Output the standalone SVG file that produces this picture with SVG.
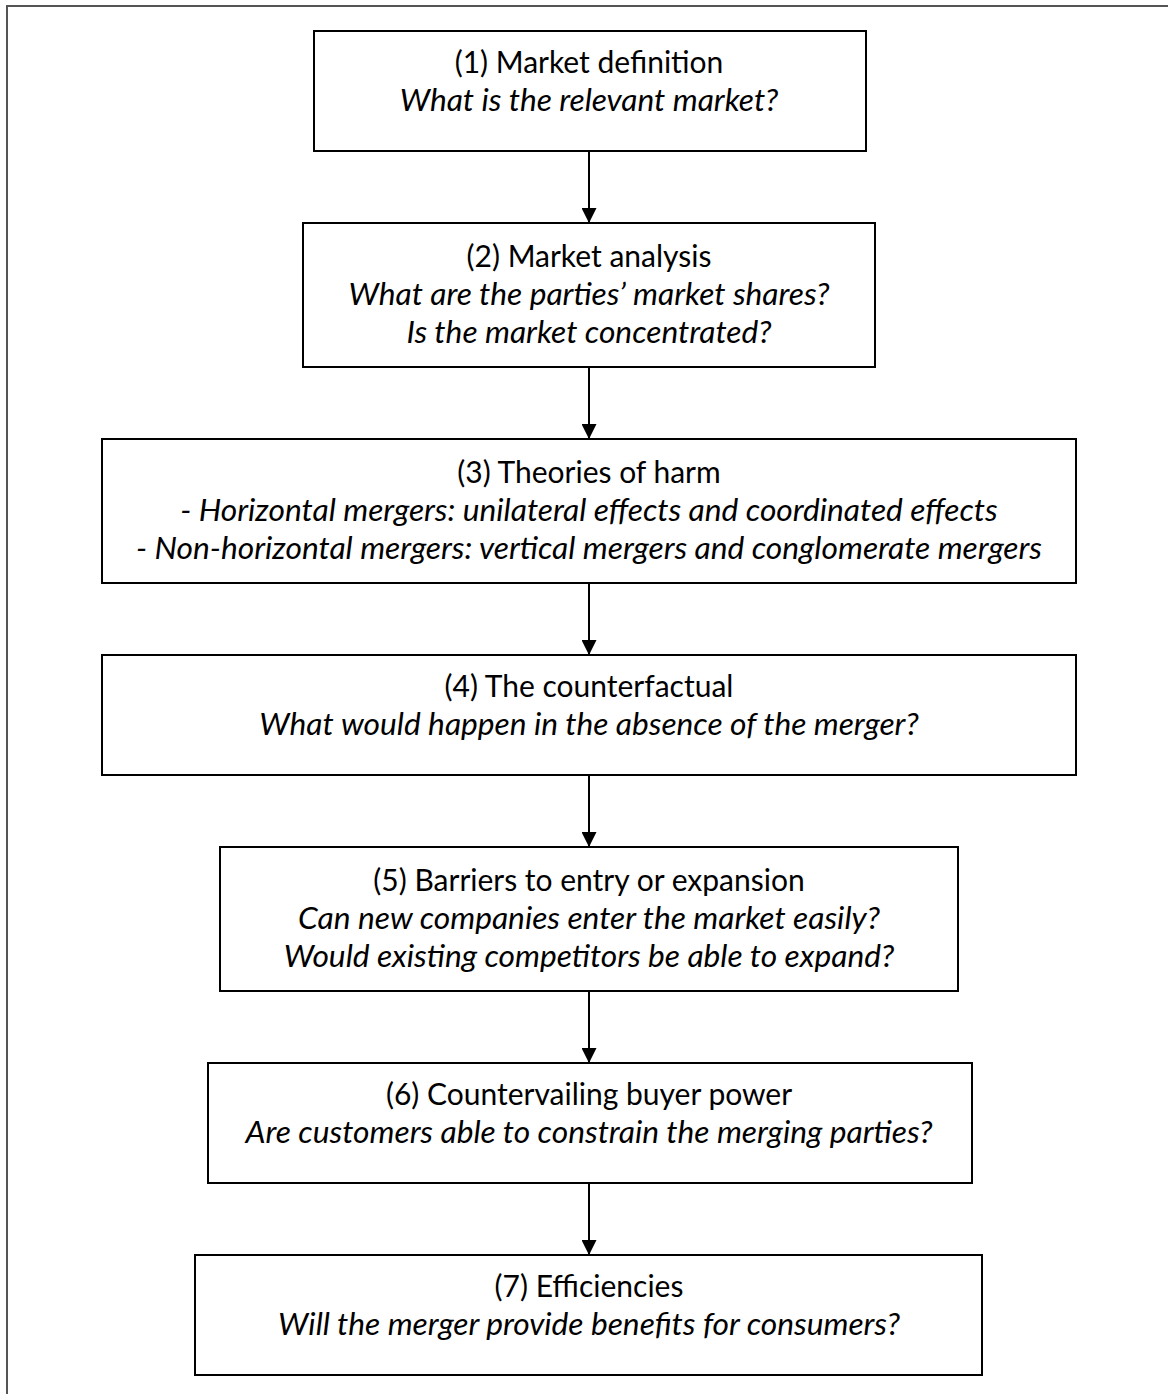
<svg xmlns="http://www.w3.org/2000/svg" width="1168" height="1394" viewBox="0 0 1168 1394">
<style>
.box{fill:#fff;stroke:#000;stroke-width:2}
.t{font-family:Lato,"Open Sans","Liberation Sans",sans-serif;font-size:30px;fill:#000;text-anchor:middle}
.i{font-style:italic;font-size:31.7px}
.c{stroke:#000;stroke-width:2;fill:none}
</style>
<defs>
<marker id="ah" markerWidth="15" markerHeight="15" refX="15" refY="7.5" orient="auto" markerUnits="userSpaceOnUse">
<path d="M0,0 L15,7.5 L0,15 Z" fill="#000"/>
</marker>
</defs>
<rect x="7" y="6" width="1200" height="1450" fill="#fff" stroke="#555" stroke-width="2"/>
<g id="connectors">
<line class="c" x1="589" y1="151" x2="589" y2="223" marker-end="url(#ah)"/>
<line class="c" x1="589" y1="367" x2="589" y2="439" marker-end="url(#ah)"/>
<line class="c" x1="589" y1="583" x2="589" y2="655" marker-end="url(#ah)"/>
<line class="c" x1="589" y1="775" x2="589" y2="847" marker-end="url(#ah)"/>
<line class="c" x1="589" y1="991" x2="589" y2="1063" marker-end="url(#ah)"/>
<line class="c" x1="589" y1="1183" x2="589" y2="1255" marker-end="url(#ah)"/>
</g>
<g id="n1">
<rect class="box" x="314" y="31" width="552" height="120"/>
<text class="t" x="589" y="73">(1) Market definition</text>
<text class="t i" x="589" y="111">What is the relevant market?</text>
</g>
<g id="n2">
<rect class="box" x="303" y="223" width="572" height="144"/>
<text class="t" x="589" y="267">(2) Market analysis</text>
<text class="t i" x="589" y="305">What are the parties’ market shares?</text>
<text class="t i" x="589" y="343">Is the market concentrated?</text>
</g>
<g id="n3">
<rect class="box" x="102" y="439" width="974" height="144"/>
<text class="t" x="589" y="483">(3) Theories of harm</text>
<text class="t i" x="589" y="521">- Horizontal mergers: unilateral effects and coordinated effects</text>
<text class="t i" x="589" y="559">- Non-horizontal mergers: vertical mergers and conglomerate mergers</text>
</g>
<g id="n4">
<rect class="box" x="102" y="655" width="974" height="120"/>
<text class="t" x="589" y="697">(4) The counterfactual</text>
<text class="t i" x="589" y="735">What would happen in the absence of the merger?</text>
</g>
<g id="n5">
<rect class="box" x="220" y="847" width="738" height="144"/>
<text class="t" x="589" y="891">(5) Barriers to entry or expansion</text>
<text class="t i" x="589" y="929">Can new companies enter the market easily?</text>
<text class="t i" x="589" y="967">Would existing competitors be able to expand?</text>
</g>
<g id="n6">
<rect class="box" x="208" y="1063" width="764" height="120"/>
<text class="t" x="589" y="1105">(6) Countervailing buyer power</text>
<text class="t i" x="589" y="1143">Are customers able to constrain the merging parties?</text>
</g>
<g id="n7">
<rect class="box" x="195" y="1255" width="787" height="120"/>
<text class="t" x="589" y="1297">(7) Efficiencies</text>
<text class="t i" x="589" y="1335">Will the merger provide benefits for consumers?</text>
</g>
</svg>
